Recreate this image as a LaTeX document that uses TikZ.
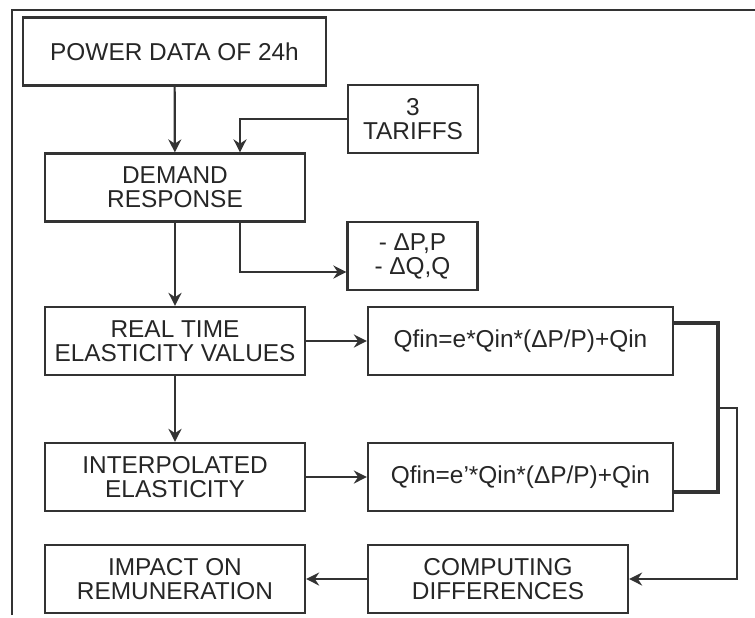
\documentclass[tikz,border=0pt]{standalone}
\usepackage{fontspec}
\setmainfont{Liberation Sans}
\usetikzlibrary{arrows.meta,calc}

\begin{document}
\begin{tikzpicture}[x=0.5pt,y=-0.5pt,->,>={Stealth[length=6.5pt,width=6.5pt]},
    line width=1.1pt,draw=black!80,
    block/.style={draw,-,rectangle,minimum height=34pt,minimum width=130pt,
        align=center,inner sep=1pt,text=black!85,
        font=\fontsize{12.2}{12}\selectfont}]

\useasboundingbox (0,0) rectangle (755,617);

% frame
\path [draw,-,line width=1.1pt] (12,615) -- (12,10) -- (755,10);

\node [block,minimum width=151.5pt] (power) at (174.5,51.5) {POWER DATA OF 24h};
\node [block,minimum width=65pt] (tariffs) at (413,119) {3\\TARIFFS};
\node [block] (demand) at (175,187.5) {DEMAND\\RESPONSE};
\node [block,minimum width=65pt] (delta) at (412.5,256) {- ΔP,P\\- ΔQ,Q};
\node [block] (realtime) at (175,341) {REAL TIME\\ELASTICITY VALUES};
\node [block,minimum width=152.5pt] (qfina) at (520.5,341) {Qfin=e*Qin*(ΔP/P)+Qin};
\node [block] (interp) at (175,477) {INTERPOLATED\\ELASTICITY};
\node [block,minimum width=152.5pt] (qfinb) at (520.5,477) {Qfin=e'*Qin*(ΔP/P)+Qin};
\node [block] (impact) at (175,579) {IMPACT ON\\REMUNERATION};
\node [block] (computing) at (498,579) {COMPUTING\\DIFFERENCES};

\coordinate (join) at (718,408);

\path [draw] (power) -- (demand);
\path [draw] (tariffs.west) -| ($(demand.north)+(65,0)$);
\path [draw] ($(demand.south)+(65,0)$) |- ($(delta.west)+(0,16)$);
\path [draw] (demand) -- (realtime);
\path [draw] (realtime) -- (interp);
\path [draw] (realtime) -- (qfina);
\path [draw] (interp) -- (qfinb);
\path [draw] (join) -- ++(19,0) |- (computing.east);
\path [draw] (computing) -- (impact);

\path [draw,-,line width=1.8pt]
    ($(qfina.east)+(0,-18)$) -| (join)
    ($(qfinb.east)+(0,15)$) -| (join)
;

\end{tikzpicture}
\end{document}
